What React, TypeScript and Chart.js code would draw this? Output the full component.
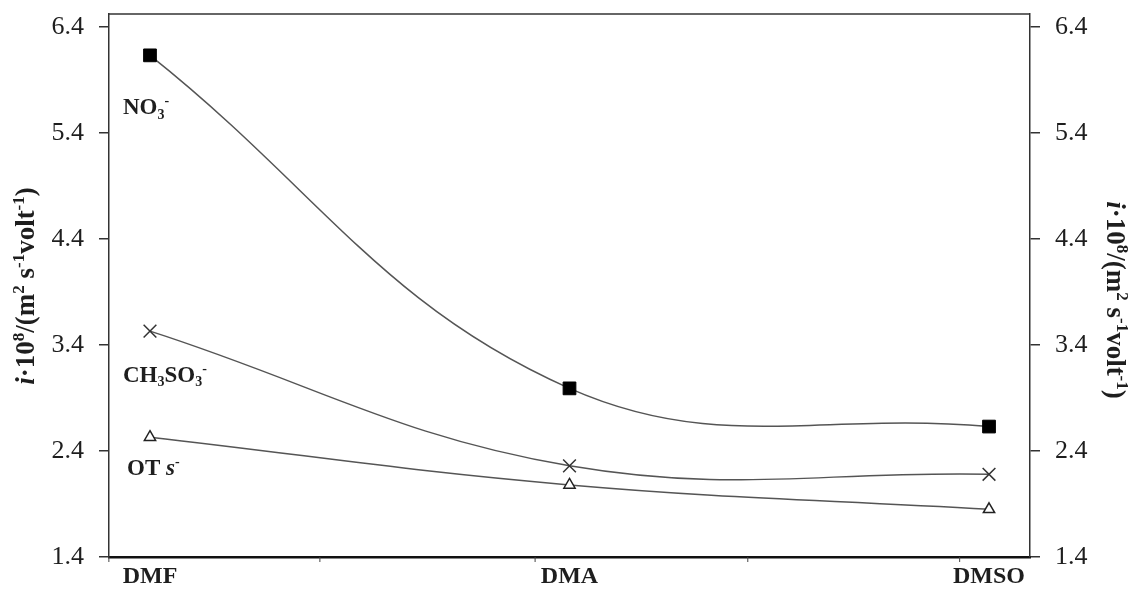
import React, { useEffect, useRef } from 'react';
import { Chart, registerables } from 'chart.js';

Chart.register(...registerables);

const categories = ['DMF', 'DMA', 'DMSO'];
const no3 = [6.13, 2.99, 2.63];
const ch3so3 = [3.53, 2.26, 2.18];
const ots = [2.53, 2.08, 1.85];
const yTicks = [1.4, 2.4, 3.4, 4.4, 5.4, 6.4];
const xMinorTicks = [-0.098, 0.405, 0.918, 1.425, 1.93];

type Seg = { t: string; k?: 'sup' | 'sub'; it?: boolean };

const titleSegs: Seg[] = [
  { t: 'i', it: true },
  { t: '·10' },
  { t: '8', k: 'sup' },
  { t: '/(m' },
  { t: '2', k: 'sup' },
  { t: ' s' },
  { t: '-1', k: 'sup' },
  { t: 'volt' },
  { t: '-1', k: 'sup' },
  { t: ')' },
];

const seriesLabels: { segs: Seg[]; dx: number; dy: number; series: number[] }[] = [
  { segs: [{ t: 'NO' }, { t: '3', k: 'sub' }, { t: '-', k: 'sup' }], dx: -27, dy: 51, series: no3 },
  {
    segs: [{ t: 'CH' }, { t: '3', k: 'sub' }, { t: 'SO' }, { t: '3', k: 'sub' }, { t: '-', k: 'sup' }],
    dx: -27,
    dy: 43,
    series: ch3so3,
  },
  { segs: [{ t: 'OT ' }, { t: 's', it: true }, { t: '-', k: 'sup' }], dx: -23, dy: 30, series: ots },
];

const SERIF = '"Liberation Serif", "DejaVu Serif", serif';
const TEXT = '#1e1e1e';

function drawRich(
  ctx: CanvasRenderingContext2D,
  segs: Seg[],
  x: number,
  y: number,
  size: number,
  align: 'left' | 'center'
) {
  const font = (s: Seg) => `${s.it ? 'italic ' : ''}bold ${s.k ? Math.round(size * 0.62) : size}px ${SERIF}`;
  const widths = segs.map((s) => {
    ctx.font = font(s);
    return ctx.measureText(s.t).width;
  });
  const total = widths.reduce((a, b) => a + b, 0);
  let cx = align === 'center' ? x - total / 2 : x;
  ctx.textBaseline = 'alphabetic';
  ctx.textAlign = 'left';
  segs.forEach((s, i) => {
    ctx.font = font(s);
    const dy = s.k === 'sup' ? -size * 0.38 : s.k === 'sub' ? size * 0.2 : 0;
    ctx.fillText(s.t, cx, y + dy);
    cx += widths[i];
  });
}

const decorPlugin = {
  id: 'decor',
  afterDraw(chart: any) {
    const ctx: CanvasRenderingContext2D = chart.ctx;
    const { left, right, top, bottom } = chart.chartArea;
    const xs = chart.scales.x;
    const ys = chart.scales.y;
    ctx.save();
    // top border
    ctx.strokeStyle = '#333';
    ctx.lineWidth = 1.5;
    ctx.beginPath();
    ctx.moveTo(left, top);
    ctx.lineTo(right, top);
    ctx.stroke();
    // minor x ticks
    ctx.lineWidth = 1;
    ctx.strokeStyle = '#444';
    xMinorTicks.forEach((v) => {
      const px = xs.getPixelForValue(v);
      ctx.beginPath();
      ctx.moveTo(px, bottom);
      ctx.lineTo(px, bottom + 5);
      ctx.stroke();
    });
    ctx.fillStyle = TEXT;
    const tSize = 27;
    // left title
    ctx.save();
    ctx.translate(25, 286);
    ctx.rotate(-Math.PI / 2);
    drawRich(ctx, titleSegs, 0, tSize * 0.33, tSize, 'center');
    ctx.restore();
    // right title
    ctx.save();
    ctx.translate(1116, 300);
    ctx.rotate(Math.PI / 2);
    drawRich(ctx, titleSegs, 0, tSize * 0.33, tSize, 'center');
    ctx.restore();
    // series labels
    const lSize = 23;
    seriesLabels.forEach((l) => {
      const px = xs.getPixelForValue(0);
      const py = ys.getPixelForValue(l.series[0]);
      drawRich(ctx, l.segs, px + l.dx, py + l.dy + lSize * 0.33, lSize, 'left');
    });
    ctx.restore();
  },
};

export default function App() {
  const ref = useRef<HTMLCanvasElement | null>(null);
  useEffect(() => {
    document.body.style.margin = '0';
    const canvas = ref.current;
    if (!canvas) return;
    const toPts = (arr: number[]) => arr.map((v, i) => ({ x: i, y: v }));
    const yAxis = (position: 'left' | 'right', width: number) => ({
      type: 'linear' as const,
      position,
      min: 1.4,
      max: 6.52,
      afterBuildTicks: (s: any) => {
        s.ticks = yTicks.map((v) => ({ value: v }));
      },
      afterFit: (s: any) => {
        s.width = width;
        s.paddingTop = 0;
        s.paddingBottom = 0;
      },
      ticks: {
        color: TEXT,
        padding: 15,
        font: { family: SERIF, size: 26 },
        callback: (v: any) => Number(v).toFixed(1),
      },
      grid: { drawOnChartArea: false, tickLength: 10, color: '#333', lineWidth: 1.5 },
      border: { display: true, color: '#333', width: 1.5 },
    });
    const chart = new Chart(canvas, {
      type: 'line',
      data: {
        datasets: [
          {
            label: 'NO3-',
            data: toPts(no3),
            borderColor: '#555',
            borderWidth: 1.5,
            tension: 0.4,
            pointStyle: 'rect',
            pointRadius: 9,
            pointBackgroundColor: '#000',
            pointBorderColor: '#000',
            pointBorderWidth: 1,
          },
          {
            label: 'CH3SO3-',
            data: toPts(ch3so3),
            borderColor: '#555',
            borderWidth: 1.5,
            tension: 0.4,
            pointStyle: 'crossRot',
            pointRadius: 9,
            pointBorderColor: '#333',
            pointBorderWidth: 1.5,
          },
          {
            label: 'OTs-',
            data: toPts(ots),
            borderColor: '#555',
            borderWidth: 1.5,
            tension: 0.4,
            pointStyle: 'triangle',
            pointRadius: 6.5,
            pointBackgroundColor: '#fff',
            pointBorderColor: '#222',
            pointBorderWidth: 1.5,
          },
        ],
      },
      options: {
        animation: false,
        responsive: false,
        layout: { padding: { top: 14, left: 0, right: 0, bottom: 0 } },
        plugins: { legend: { display: false }, tooltip: { enabled: false } },
        scales: {
          x: {
            type: 'linear',
            min: -0.0977,
            max: 2.0977,
            afterBuildTicks: (s: any) => {
              s.ticks = categories.map((_, i) => ({ value: i }));
            },
            afterFit: (s: any) => {
              s.height = 33;
              s.paddingLeft = 0;
              s.paddingRight = 0;
            },
            ticks: {
              color: TEXT,
              padding: 5,
              maxRotation: 0,
              font: { family: SERIF, size: 24, weight: 'bold' },
              callback: (v: any) => categories[Math.round(Number(v))] ?? '',
            },
            grid: { display: false, drawTicks: false },
            border: { display: true, color: '#111', width: 2.5 },
          },
          y: yAxis('left', 109),
          y2: yAxis('right', 100),
        },
      },
      plugins: [decorPlugin],
    } as any);
    return () => chart.destroy();
  }, []);
  return (
    <div style={{ width: 1130, height: 590 }}>
      <canvas ref={ref} width={1130} height={590} />
    </div>
  );
}
